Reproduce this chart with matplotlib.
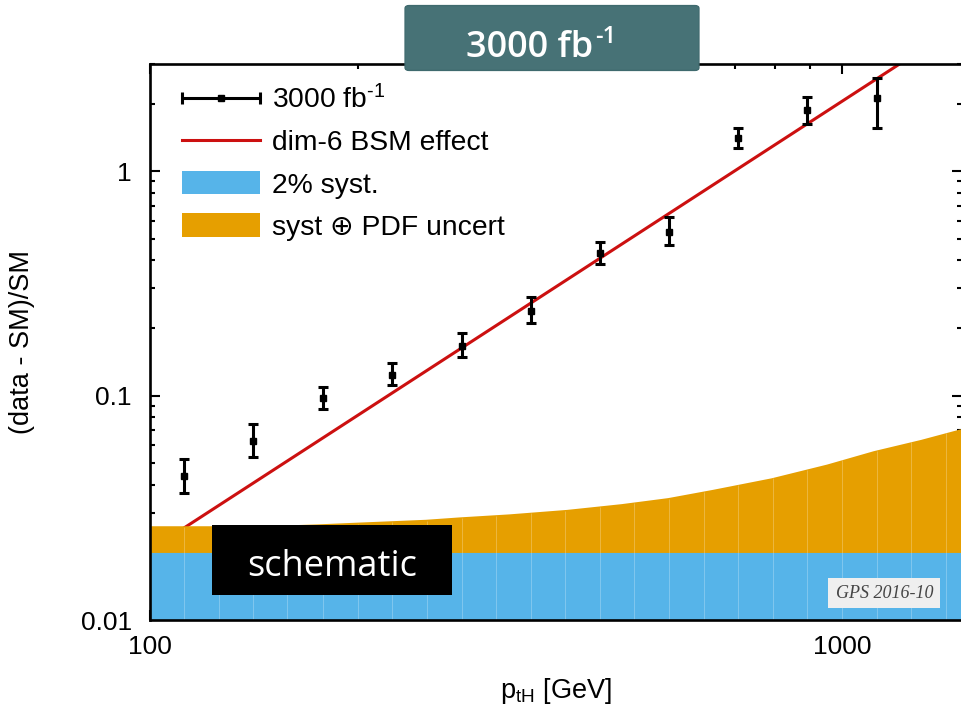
import numpy as np
import matplotlib
matplotlib.use("Agg")
import matplotlib.pyplot as plt
from matplotlib.patches import Rectangle, FancyBboxPatch
from matplotlib.container import ErrorbarContainer
from matplotlib.lines import Line2D
from matplotlib.collections import LineCollection
from matplotlib.legend_handler import HandlerErrorbar

plt.rcParams['font.family'] = ['Liberation Sans', 'DejaVu Sans']
plt.rcParams['mathtext.fontset'] = 'custom'
plt.rcParams['mathtext.rm'] = 'Liberation Sans'
plt.rcParams['mathtext.it'] = 'Liberation Sans:italic'
plt.rcParams['mathtext.bf'] = 'Liberation Sans:bold'

# ---------------- data ----------------
pt = [112, 141, 178, 224, 282, 355, 447, 562, 708, 891, 1122]
ratio = [0.0440, 0.063, 0.098, 0.123, 0.1655, 0.237, 0.430, 0.535, 1.40, 1.87, 2.12]
ratio_lo = [0.0369, 0.0534, 0.0875, 0.111, 0.148, 0.2096, 0.384, 0.467, 1.267, 1.62, 1.556]
ratio_hi = [0.0523, 0.075, 0.1097, 0.140, 0.189, 0.274, 0.482, 0.623, 1.556, 2.14, 2.60]

bsm_x = [100, 1500]
bsm_y = [0.0205, 4.6]

band_x = [100, 130, 150, 174, 200, 250, 280, 330, 400, 480, 560, 650, 790, 950, 1110, 1300, 1500]
syst_y = [0.02] * len(band_x)
pdf_y = [0.0263, 0.0263, 0.0264, 0.0268, 0.0273, 0.0281, 0.0288, 0.0297, 0.0311,
         0.0330, 0.0351, 0.0382, 0.0430, 0.0495, 0.0568, 0.0638, 0.0718]

band_edges = [112, 126, 141, 158, 178, 200, 224, 251, 282, 316, 355, 398, 447, 501,
              562, 631, 708, 794, 891, 1000, 1122, 1259, 1413]

xlim = (100, 1491)
ylim = (0.01, 3.0)

# ---------------- figure ----------------
W, H = 961, 709
fig = plt.figure(figsize=(W / 100, H / 100), dpi=100)

def fx(px):
    return px / W

def fy(py):
    return (H - py) / H

ax = fig.add_axes([fx(150), fy(620), fx(962) - fx(150), fy(64) - fy(620)])
ax.set_xscale('log')
ax.set_yscale('log')

blue = '#56b4e9'
orange = '#e69f00'
red = '#cc1010'

ax.plot(bsm_x, bsm_y, color=red, lw=2.2, zorder=1)
ax.fill_between(band_x, 0.001, syst_y, color=blue, lw=0, zorder=2)
ax.fill_between(band_x, syst_y, pdf_y, color=orange, lw=0, zorder=2)
# faint bin boundaries inside the bands
top_at_edges = np.interp(np.log10(band_edges), np.log10(band_x), np.log10(pdf_y))
ax.vlines(band_edges, 0.001, 10 ** top_at_edges - 0.0004, colors='white', lw=0.7,
          alpha=0.25, zorder=2.5)

yerr = [np.array(ratio) - np.array(ratio_lo), np.array(ratio_hi) - np.array(ratio)]
ax.errorbar(pt, ratio, yerr=yerr, fmt='s', color='black', ms=4.8,
            elinewidth=2.2, capsize=3.6, capthick=2.2, zorder=5)

ax.set_xlim(*xlim)
ax.set_ylim(*ylim)

for s in ax.spines.values():
    s.set_linewidth(1.9)
    s.set_zorder(6)

ax.tick_params(which='both', direction='in', top=True, right=True, width=1.5,
               labelsize=19)
ax.tick_params(which='major', length=7)
ax.tick_params(which='minor', length=3.5)
ax.tick_params(axis='y', which='major', pad=13)
ax.tick_params(axis='x', which='major', pad=11)

ax.set_xticks([100, 1000])
ax.set_xticklabels(['100', '1000'])
ax.xaxis.set_minor_formatter(matplotlib.ticker.NullFormatter())
ax.set_yticks([0.01, 0.1, 1])
ax.set_yticklabels(['0.01', '0.1', '1'])
ax.yaxis.set_minor_formatter(matplotlib.ticker.NullFormatter())

ax.set_xlabel(r'p$_{\mathrm{tH}}$ [GeV]', fontsize=19.5)
ax.xaxis.set_label_coords(0.5, (620 - 691) / 556)
ax.xaxis.label.set_va('center')
ax.set_ylabel('(data - SM)/SM', fontsize=19.5)
ax.yaxis.set_label_coords((22 - 150) / 812, 0.5)
ax.yaxis.label.set_va('center')

# ---------------- legend ----------------
pl = Line2D([], [], color='black', marker='s', ms=4.8, ls='none')
cap = Line2D([], [], color='black', marker='|', ms=8, mew=2.2, ls='none')
bar = LineCollection([], colors='black', linewidths=2.2)
eb_proxy = ErrorbarContainer((pl, (cap,), (bar,)), has_xerr=True, has_yerr=False)
line_proxy = Line2D([], [], color=red, lw=2.2)
blue_proxy = Rectangle((0, 0), 1, 1, color=blue, lw=0)
orange_proxy = Rectangle((0, 0), 1, 1, color=orange, lw=0)

leg = ax.legend([eb_proxy, line_proxy, blue_proxy, orange_proxy],
                [r'3000 fb$^{\text{-}1}$', 'dim-6 BSM effect', '2% syst.', 'syst ⊕ PDF uncert'],
                loc='upper left', bbox_to_anchor=(0.0394, 0.962), borderaxespad=0,
                borderpad=0, frameon=False, fontsize=20.3, handlelength=2.75,
                handleheight=0.9, handletextpad=0.45, labelspacing=0.52,
                handler_map={ErrorbarContainer: HandlerErrorbar(xerr_size=1.375)})
leg.set_zorder(7)

# ---------------- annotations ----------------
title_box = FancyBboxPatch((fx(407), fy(69)), fx(697) - fx(407), fy(7) - fy(69),
                           boxstyle='round,pad=0.002,rounding_size=0.004',
                           transform=fig.transFigure, facecolor='#477276',
                           edgecolor='#3f6a6e', lw=1, zorder=10)
fig.add_artist(title_box)
t = fig.text(fx(466), fy(57), '3000 fb', color='white', fontsize=26,
             family='Open Sans', weight='semibold', ha='left', va='baseline', zorder=11)
fig.canvas.draw()
bb = t.get_window_extent()
fig.text(bb.x1 / W + fx(2), fy(43), '-1', color='white', fontsize=17,
         family='Open Sans', weight='semibold', ha='left', va='baseline', zorder=11)

sch_box = Rectangle((fx(212), fy(595)), fx(452) - fx(212), fy(525) - fy(595),
                    transform=fig.transFigure, facecolor='black', lw=0, zorder=10)
fig.add_artist(sch_box)
fig.text(fx(332), fy(576), 'schematic', color='white', fontsize=26,
         family='Open Sans', ha='center', va='baseline', zorder=11)

gps_box = Rectangle((fx(828), fy(608)), fx(940) - fx(828), fy(578) - fy(608),
                    transform=fig.transFigure, facecolor='#efefef', lw=0, zorder=10)
fig.add_artist(gps_box)
fig.text(fx(885), fy(593), 'GPS 2016-10', color='#444444', fontsize=13,
         family='Liberation Serif', style='italic', ha='center', va='center', zorder=11)

fig.savefig('out.png', dpi=100)
